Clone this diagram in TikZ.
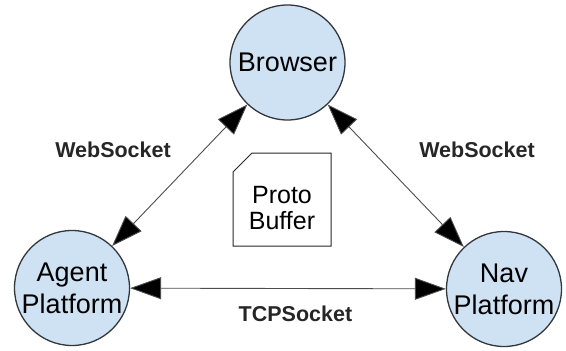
\documentclass[tikz,border=0pt]{standalone}
\usepackage{fontspec}
\setmainfont{Liberation Sans}
\usetikzlibrary{arrows.meta}
\definecolor{circfill}{RGB}{207,226,243}
\definecolor{circline}{RGB}{50,55,60}
\begin{document}
\begin{tikzpicture}[x=1pt,y=-1pt,
  endpoint/.style={circle,draw=circline,line width=1.3pt,fill=circfill,minimum size=115pt,inner sep=0pt,align=center,font=\fontsize{27}{32}\selectfont},
  lbl/.style={font=\fontsize{21.5}{24}\selectfont\bfseries,text=black!85},
  link/.style={draw=black!70,line width=0.9pt,{Triangle[length=31pt,width=22pt,fill=black]}-{Triangle[length=31pt,width=22pt,fill=black]}}]
\useasboundingbox (0,0) rectangle (566,351);
\node[endpoint] (browser) at (287.5,62.5) {Browser};
\node[endpoint] (agent) at (72,288) {Agent\\Platform};
\node[endpoint] (nav) at (504,289) {Nav\\Platform};
\draw[link] (agent) -- (browser);
\draw[link] (browser) -- (nav);
\draw[link] (agent) -- (nav);
\node[lbl] (ws1) at (113,150) {WebSocket};
\node[lbl] (ws2) at (477,150) {WebSocket};
\node[lbl] (tcp) at (295.5,314) {TCPSocket};
\draw[black!85,line width=1pt] (233,172) -- (252,153) -- (331,153) -- (331,246) -- (233,246) -- cycle;
\node[align=center,font=\fontsize{25}{26}\selectfont] (proto) at (282,208) {Proto\\Buffer};
\end{tikzpicture}
\end{document}
